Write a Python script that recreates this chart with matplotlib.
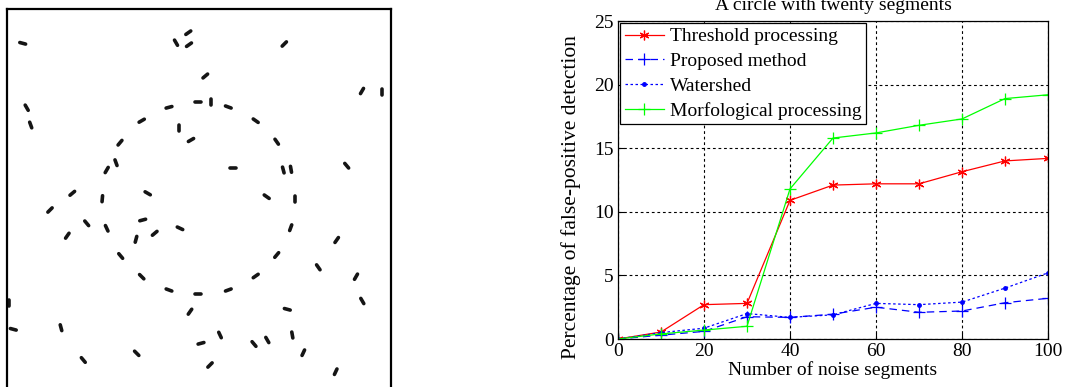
import numpy as np
import matplotlib
matplotlib.use("Agg")
import matplotlib.pyplot as plt

# ---- right panel data ----
noise_segments = [0, 10, 20, 30, 40, 50, 60, 70, 80, 90, 100]
threshold = [0, 0.55, 2.7, 2.8, 10.9, 12.1, 12.2, 12.2, 13.15, 14.0, 14.2]
proposed = [0, 0.3, 0.6, 1.75, 1.7, 1.95, 2.5, 2.1, 2.2, 2.85, 3.2]
watershed = [0, 0.5, 0.85, 2.0, 1.7, 1.9, 2.8, 2.7, 2.9, 4.0, 5.2]
morfological = [0, 0.4, 0.7, 1.0, 11.8, 15.8, 16.2, 16.8, 17.3, 18.9, 19.2]

# ---- left panel: segment centres (image pixels) and angles (degrees) ----
seg_x = [22.7, 188.3, 176, 189, 284.3, 205.3, 362, 382, 26.7, 30.7,
         198.3, 211, 169, 228.3, 141.7, 179, 255.7, 191, 120, 276.7,
         116, 106.7, 233.3, 283.3, 291, 346.7, 72.3, 102.3, 147.7, 266.7,
         295, 50, 86.7, 106.7, 142.7, 180, 154.7, 136, 67.3, 290.7,
         336.7, 120.7, 276.7, 318.3, 356, 141.7, 255.7, 169, 198.3, 228.3,
         362.3, 9.3, 190, 287.3, 13.3, 61, 220, 201, 254, 267.3,
         292.3, 136.7, 83.3, 210, 303.3, 335.7]
seg_y = [43.3, 32.7, 42.7, 44.7, 44, 76, 91, 92.3, 107.7, 125,
         102.3, 102, 107.3, 107, 120.7, 128.3, 120.7, 140, 142.7, 141.7,
         162.7, 170, 168.3, 170, 169.3, 165.7, 193.3, 198.7, 193.3, 196.7,
         198.7, 210, 223.3, 228.3, 220, 228.3, 233.3, 239.3, 235.7, 227.7,
         240, 256, 255, 267.3, 276.7, 276.7, 276, 290, 294, 290,
         301, 302.7, 311.7, 309.3, 329.3, 327.7, 335, 343.3, 344, 340,
         335, 353.3, 360, 365, 352.7, 371.7]
seg_angle = [-15, 35, -60, 35, 45, 40, 60, 90, -60, -70,
             0, 90, 15, -20, 30, 90, -35, 30, 50, -55,
             -70, 60, 0, -75, -80, -50, 40, 85, -30, -35,
             90, 45, -50, -65, 15, -25, 40, 75, 55, 70,
             55, -50, 50, -55, 60, -45, 35, -20, 0, 20,
             -60, 90, 55, -15, -15, -75, -65, 15, -50, -60,
             -80, -45, -50, 45, 65, 65]

plt.rcParams['font.family'] = ['Liberation Serif', 'DejaVu Serif']

fig = plt.figure(figsize=(10.66, 3.87), dpi=100)
W, H = 1066.0, 387.0

# left image panel (data units = image pixels)
ax_img = fig.add_axes([7 / W, (H - 395) / H, 384 / W, 386 / H])
ax_img.set_xlim(7, 391)
ax_img.set_ylim(395, 9)
seg_len = 6.0
for x, y, a in zip(seg_x, seg_y, seg_angle):
    dx = 0.5 * seg_len * np.cos(np.radians(a))
    dy = 0.5 * seg_len * np.sin(np.radians(a))
    ax_img.plot([x - dx, x + dx], [y + dy, y - dy], color='#151515',
                lw=2.6, solid_capstyle='round')
ax_img.set_xticks([])
ax_img.set_yticks([])
for s in ax_img.spines.values():
    s.set_linewidth(1.6)

# right chart
ax = fig.add_axes([618 / W, (H - 339) / H, 430 / W, 318 / H])
ax.plot(noise_segments, threshold, color='red', lw=0.9, marker=(6, 2, 0), ms=7,
        mew=0.9, label='Threshold processing')
ax.plot(noise_segments, proposed, color='blue', lw=0.9, ls=(0, (6, 4)), marker='+',
        ms=9, mew=0.9, label='Proposed method')
ax.plot(noise_segments, watershed, color='blue', lw=0.9, ls=(0, (2, 2)), marker='.',
        ms=5, label='Watershed')
ax.plot(noise_segments, morfological, color='#00ff00', lw=0.9, marker='+', ms=9,
        mew=0.9, label='Morfological processing')

ax.set_xlim(0, 100)
ax.set_ylim(0, 25)
ax.set_xticks(range(0, 101, 20))
ax.set_yticks(range(0, 26, 5))
ax.grid(True, color='black', ls=(0, (2.5, 2.5)), lw=0.8)
ax.tick_params(direction='in', labelsize=14, length=4, pad=3)
for s in ax.spines.values():
    s.set_linewidth(0.9)

ax.set_xlabel('Number of noise segments', fontsize=14, labelpad=1)
ax.set_ylabel('Percentage of false-positive detection', fontsize=15.5)
ax.yaxis.set_label_coords(-0.085, 0.445)
ax.set_title('A circle with twenty segments', fontsize=14, pad=8)

leg = ax.legend(loc='upper left', fontsize=14, frameon=True, fancybox=False,
                edgecolor='black', framealpha=1, borderaxespad=0.1,
                handlelength=2.0, labelspacing=0.36, borderpad=0.25, handletextpad=0.3)
leg.get_frame().set_linewidth(0.9)

fig.savefig('out.png', dpi=100)
